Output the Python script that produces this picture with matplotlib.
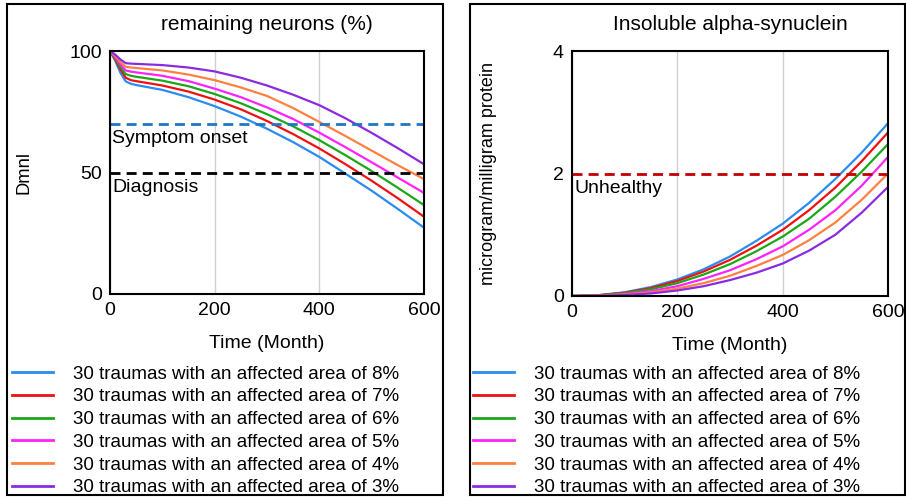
import matplotlib
matplotlib.use("Agg")
import matplotlib.pyplot as plt
from matplotlib.patches import Rectangle

plt.rcParams['font.family'] = ['Liberation Sans', 'DejaVu Sans']

# Simulation output, sampled in months
months = [0, 10, 20, 30, 40, 50, 100, 150, 200, 250, 300, 350, 400, 450, 500, 550, 600]
neurons_8 = [100, 96, 91, 87.5, 86.5, 86, 84, 81, 77.3, 73, 68, 62.5, 56.4, 49.5, 42.5, 35, 27.3]
neurons_7 = [100, 96.5, 92.5, 89, 88, 87.6, 85.8, 83.3, 80, 76, 71.2, 65.8, 59.9, 53.4, 46.6, 39.4, 31.8]
neurons_6 = [100, 97, 93.5, 90.5, 89.8, 89.4, 87.8, 85.5, 82.3, 78.5, 74, 69, 63.3, 57.1, 50.6, 43.7, 36.6]
neurons_5 = [100, 97.5, 94.5, 92, 91.5, 91.2, 89.8, 87.6, 84.5, 81, 76.8, 72, 66.4, 60.4, 54.2, 47.9, 41.6]
neurons_4 = [100, 98, 95.5, 93.5, 93.2, 93, 92, 90.3, 88, 85, 81.5, 76.5, 70.8, 65, 59, 53, 47.3]
neurons_3 = [100, 98.5, 96.5, 95, 94.8, 94.7, 94.2, 93.2, 91.6, 89, 85.8, 82, 77.7, 72.3, 66.3, 60, 53.4]

syn_months = [0, 50, 100, 150, 200, 250, 300, 350, 400, 450, 500, 550, 600]
syn_8 = [0, 0.014, 0.061, 0.146, 0.27, 0.436, 0.645, 0.90, 1.18, 1.52, 1.91, 2.34, 2.82]
syn_7 = [0, 0.012, 0.054, 0.13, 0.245, 0.40, 0.59, 0.82, 1.08, 1.40, 1.77, 2.20, 2.67]
syn_6 = [0, 0.010, 0.045, 0.11, 0.21, 0.35, 0.52, 0.73, 0.97, 1.26, 1.62, 2.03, 2.48]
syn_5 = [0, 0.006, 0.032, 0.08, 0.16, 0.28, 0.42, 0.60, 0.81, 1.08, 1.40, 1.80, 2.27]
syn_4 = [0, 0.004, 0.022, 0.058, 0.12, 0.21, 0.33, 0.49, 0.67, 0.91, 1.20, 1.57, 2.0]
syn_3 = [0, 0.003, 0.015, 0.042, 0.09, 0.16, 0.26, 0.38, 0.53, 0.74, 1.0, 1.36, 1.78]

labels = ['30 traumas with an affected area of %d%%' % a for a in [8, 7, 6, 5, 4, 3]]
colors = ['#2a8cf0', '#ee1111', '#1aa81a', '#ff22ff', '#ff8040', '#8a2be2']

symptom_onset = 70
diagnosis = 50
unhealthy = 2

fig = plt.figure(figsize=(9.06, 4.97), dpi=100)

# frames around each panel
for x0, x1 in [(7, 443), (470, 905)]:
    fig.patches.append(Rectangle((x0 / 906, 1 - 495 / 497), (x1 - x0) / 906, (495 - 4) / 497,
                                 transform=fig.transFigure, fill=False, ec='black', lw=1.5))

ax1 = fig.add_axes([110 / 906, 1 - 294 / 497, 314 / 906, 243 / 497])
ax2 = fig.add_axes([572 / 906, 1 - 296 / 497, 316 / 906, 245 / 497])

dash = (0, (3.6, 2.2))
fs = 14

for ys, c, lab in zip([neurons_8, neurons_7, neurons_6, neurons_5, neurons_4, neurons_3], colors, labels):
    ax1.plot(months, ys, color=c, lw=1.6, label=lab)
ax1.axhline(symptom_onset, color='#1f77c4', lw=2, ls=dash)
ax1.axhline(diagnosis, color='black', lw=2, ls=dash)
ax1.text(4, symptom_onset - 2.5, 'Symptom onset', fontsize=fs, va='top')
ax1.text(4, diagnosis - 2.5, 'Diagnosis', fontsize=fs, va='top')
ax1.set_ylim(0, 100)
ax1.set_yticks([0, 50, 100])
ax1.set_ylabel('Dmnl', fontsize=13.2, labelpad=26)
ax1.set_title('remaining neurons (%)', fontsize=15, pad=15)

for ys, c, lab in zip([syn_8, syn_7, syn_6, syn_5, syn_4, syn_3], colors, labels):
    ax2.plot(syn_months, ys, color=c, lw=1.6, label=lab)
ax2.axhline(unhealthy, color='#c00000', lw=2, ls=dash)
ax2.text(5, unhealthy - 0.1, 'Unhealthy', fontsize=fs, va='top')
ax2.set_ylim(0, 4)
ax2.set_yticks([0, 2, 4])
ax2.set_ylabel('microgram/milligram protein', fontsize=13, labelpad=40)
ax2.set_title('Insoluble alpha-synuclein', fontsize=15, pad=15)

for ax in (ax1, ax2):
    ax.set_xlim(0, 600)
    ax.set_xticks([0, 200, 400, 600])
    ax.grid(axis='x', color='#d0d0d0', lw=1)
    ax.set_axisbelow(True)
    ax.tick_params(length=0, labelsize=14, pad=6)
    ax.set_xlabel('Time (Month)', fontsize=fs, labelpad=11)
    for s in ax.spines.values():
        s.set_linewidth(1.5)

leg_kw = dict(loc='upper left', frameon=False, fontsize=13.5, handlelength=2.2,
              handletextpad=1.07, labelspacing=0.3, borderaxespad=0, borderpad=0)
fig.legend(*ax1.get_legend_handles_labels(), bbox_to_anchor=(12 / 906, 1 - 365.5 / 497), **leg_kw)
fig.legend(*ax2.get_legend_handles_labels(), bbox_to_anchor=(473 / 906, 1 - 365.5 / 497), **leg_kw)
for leg in fig.legends:
    for h in leg.legend_handles:
        h.set_linewidth(2)

fig.savefig('out.png', dpi=100)
